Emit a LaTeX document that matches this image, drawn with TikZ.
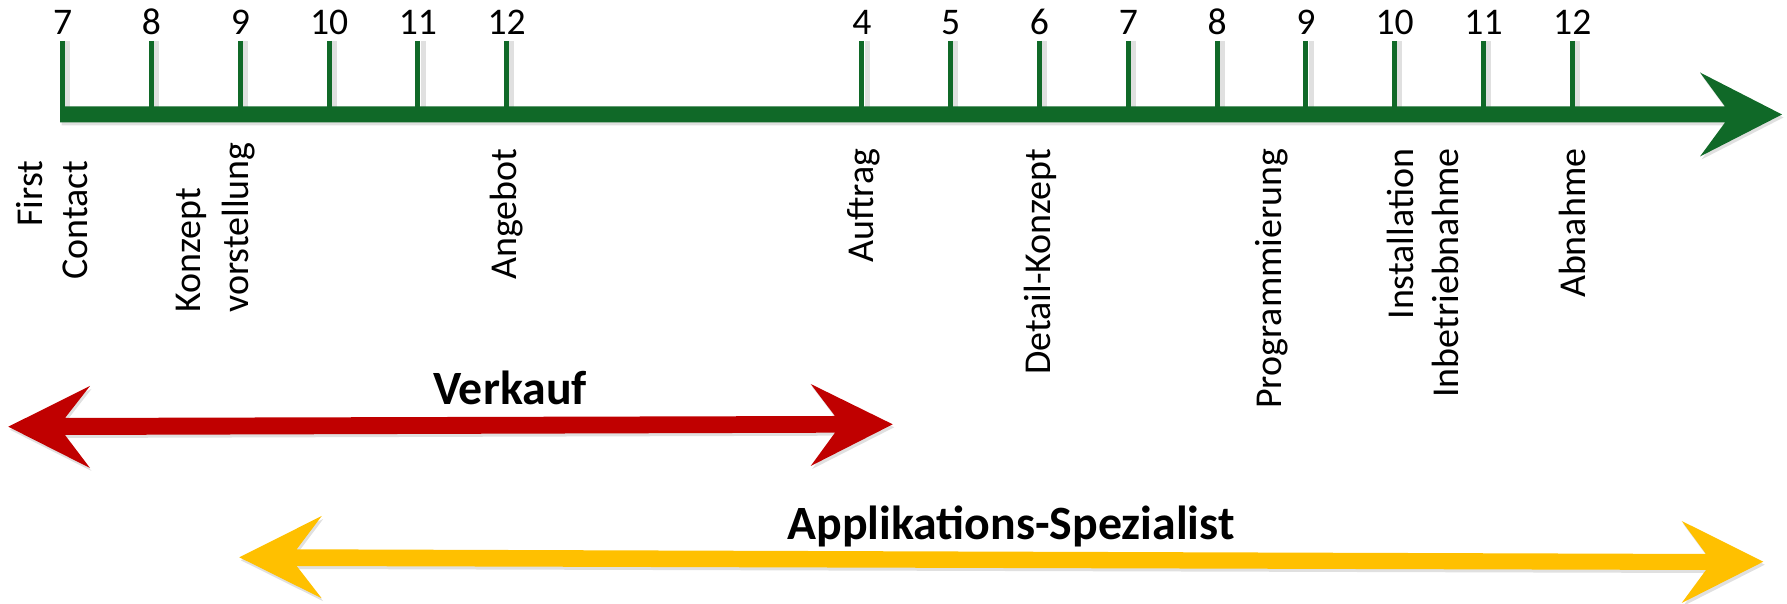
\documentclass[tikz,border=0pt]{standalone}
\usepackage{fontspec}
\setmainfont{Carlito}
\definecolor{tlgreen}{RGB}{16,105,40}
\definecolor{tlred}{RGB}{192,0,0}
\definecolor{tlyellow}{RGB}{255,192,0}
\begin{document}
\begin{tikzpicture}[x=0.01cm,y=-0.01cm,
  num/.style={inner sep=0pt, anchor=base, font=\fontsize{10.7}{12.8}\selectfont},
  lblE/.style={inner sep=0pt, rotate=90, anchor=base east, font=\fontsize{10.8}{13}\selectfont},
  lblW/.style={inner sep=0pt, rotate=90, anchor=base west, font=\fontsize{10.8}{13}\selectfont},
  tickline/.style={draw=tlgreen, line width=1.42pt},
  shadowfill/.style={fill=black, opacity=0.12},
  title/.style={inner sep=0pt, anchor=base, font=\bfseries\fontsize{13.6}{16}\selectfont}]
\useasboundingbox (0,0) rectangle (1787,604);

% ticks
\foreach \i/\n in {0/7,1/8,2/9,3/10,4/11,5/12,9/4,10/5,11/6,12/7,13/8,14/9,15/10,16/11,17/12}{
  \coordinate (t\i) at ({62.7+\i*88.8},41);
  \coordinate (b\i) at ({62.7+\i*88.8},110);
  \draw[black, opacity=0.12, line width=1.42pt] ([xshift=1.5pt]t\i) -- ([xshift=1.5pt]b\i);
  \draw[tickline] (t\i) -- (b\i);
  \node[num] (n\i) at ({62.7+\i*88.8},35) {\n};
}

% green time axis
\fill[shadowfill, shift={(1.5,3)}] (60,106.5) -- (1725,106.5) -- (1700,72.5) -- (1782,114.5) -- (1700,156.5) -- (1725,122.5) -- (60,122.5) -- cycle;
\fill[tlgreen] (60,106.5) -- (1725,106.5) -- (1700,72.5) -- (1782,114.5) -- (1700,156.5) -- (1725,122.5) -- (60,122.5) -- cycle;

% labels
\node[lblE] (l1a) at (42,160) {First};
\node[lblE] (l1b) at (87.3,160) {Contact};
\node[lblW] (l2a) at (200,313.3) {Konzept};
\node[lblW] (l2b) at (248,313.3) {vorstellung};
\node[lblE] (l3) at (516.7,148) {Angebot};
\node[lblE] (l4) at (873.3,148) {Auftrag};
\node[lblE] (l5) at (1050,148) {Detail-Konzept};
\node[lblE] (l6) at (1281.7,148) {Programmierung};
\node[lblE] (l7a) at (1413.3,148) {Installation};
\node[lblE] (l7b) at (1458.3,148) {Inbetriebnahme};
\node[lblE] (l8) at (1585,148) {Abnahme};

% Verkauf arrow
\fill[shadowfill, shift={(1.5,3)}] (8.3,426.7) -- (90,386) -- (65,418) -- (835,416) -- (810.7,384) -- (892.7,424.3) -- (810.7,466) -- (835,432.7) -- (65,435) -- (90,468) -- cycle;
\fill[tlred] (8.3,426.7) -- (90,386) -- (65,418) -- (835,416) -- (810.7,384) -- (892.7,424.3) -- (810.7,466) -- (835,432.7) -- (65,435) -- (90,468) -- cycle;
\node[title] (verkauf) at (510,405) {Verkauf};

% Applikations-Spezialist arrow
\fill[shadowfill, shift={(1.5,3)}] (239.3,557.3) -- (321.7,516) -- (296.7,549.3) -- (1706,554) -- (1681.7,521) -- (1763.3,561.7) -- (1681.7,603) -- (1706,570) -- (296.7,566) -- (321.7,598.3) -- cycle;
\fill[tlyellow] (239.3,557.3) -- (321.7,516) -- (296.7,549.3) -- (1706,554) -- (1681.7,521) -- (1763.3,561.7) -- (1681.7,603) -- (1706,570) -- (296.7,566) -- (321.7,598.3) -- cycle;
\node[title] (appl) at (1011,540) {Applikations-Spezialist};
\end{tikzpicture}
\end{document}
